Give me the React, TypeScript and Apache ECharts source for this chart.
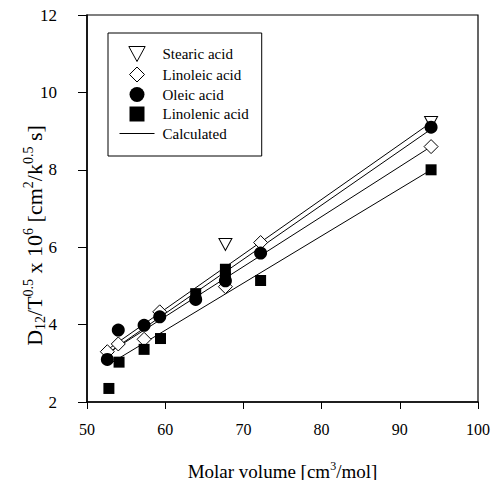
import React, { useEffect, useRef } from "react";
import * as echarts from "echarts";

// Measured points [molar volume, D12/T^0.5 x 10^6]
const stearic: number[][] = [[67.7, 6.07], [94.0, 9.22]];
const linoleic: number[][] = [[52.6, 3.3], [54.0, 3.5], [57.3, 3.62], [59.3, 4.33], [67.7, 4.98], [72.2, 6.12], [94.0, 8.6]];
const oleic: number[][] = [[52.6, 3.1], [54.0, 3.86], [57.3, 3.98], [59.3, 4.2], [63.9, 4.65], [67.7, 5.13], [72.2, 5.85], [94.0, 9.1]];
const linolenic: number[][] = [[52.8, 2.35], [54.1, 3.03], [57.3, 3.36], [59.4, 3.64], [63.9, 4.8], [67.7, 5.43], [67.7, 5.22], [72.2, 5.14], [94.0, 8.0]];

// Calculated lines (end points)
const calcX = [52.6, 94.0];
const calcStearic = [3.35, 9.22];
const calcOleic = [3.25, 9.05];
const calcLinoleic = [3.25, 8.6];
const calcLinolenic = [2.95, 8.0];

const xTicks = { min: 50, max: 100, interval: 10 };
const yTicks = { min: 2, max: 12, interval: 2 };

const FONT = "Liberation Serif";
const TRI_DOWN = "path://M0,0L12,0L6,11Z";
const DIAMOND = "path://M7,0L14,7L7,14L0,7Z";
const CIRCLE = "path://M6,0A6,6 0 1,1 6,12A6,6 0 1,1 6,0Z";
const SQUARE = "path://M0,0H10V10H0Z";
const LINE_ICON = "path://M0,0H35V1H0Z";

const toLine = (ys: number[]) => calcX.map((x, i) => [x, ys[i]]);

export default function App() {
  const ref = useRef<HTMLDivElement>(null);
  useEffect(() => {
    if (!ref.current) return;
    const chart = echarts.init(ref.current, null, { renderer: "svg" });
    const hollow = { color: "#fff", borderColor: "#000", borderWidth: 1, opacity: 1 };
    const solid = { color: "#000", opacity: 1 };
    const lineSeries = (ys: number[]) => ({
      name: "Calculated",
      type: "line",
      data: toLine(ys),
      symbol: "none",
      lineStyle: { color: "#000", width: 1 },
      itemStyle: { color: "#000" },
      z: 1,
    });
    chart.setOption({
      animation: false,
      backgroundColor: "#fff",
      grid: {
        left: 87, right: 16, top: 15, bottom: 78,
        outerBoundsMode: "none", containLabel: false,
        show: true, borderColor: "#000", borderWidth: 1.2,
      },
      legend: {
        left: 108,
        top: 33,
        orient: "vertical",
        padding: [13, 13, 15, 11.5],
        itemGap: 4.5,
        itemWidth: 35,
        itemHeight: 15,
        borderColor: "#000",
        borderWidth: 1,
        backgroundColor: "#fff",
        textStyle: { fontFamily: FONT, fontSize: 15, color: "#000", padding: [0, 0, 0, 3], lineHeight: 15 },
        data: [
          { name: "Stearic acid", icon: TRI_DOWN, itemStyle: hollow },
          { name: "Linoleic acid", icon: DIAMOND, itemStyle: hollow },
          { name: "Oleic acid", icon: CIRCLE, itemStyle: solid },
          { name: "Linolenic acid", icon: SQUARE, itemStyle: solid },
          { name: "Calculated", icon: LINE_ICON, itemStyle: { color: "#000", borderWidth: 0 }, lineStyle: { width: 0 } },
        ],
      },
      xAxis: {
        type: "value",
        min: xTicks.min,
        max: xTicks.max,
        interval: xTicks.interval,
        splitLine: { show: false },
        axisLine: { lineStyle: { color: "#000", width: 1.5 } },
        axisTick: { inside: false, length: 7, lineStyle: { color: "#000" } },
        axisLabel: { color: "#000", fontFamily: FONT, fontSize: 16, margin: 19 },
        name: "Molar volume [cm{p|3}/mol]",
        nameLocation: "middle",
        nameGap: 58,
        nameMoveOverlap: false,
        nameTextStyle: {
          color: "#000",
          fontFamily: FONT,
          fontSize: 19,
          lineHeight: 22,
          rich: {
            p: { fontFamily: FONT, fontSize: 12, lineHeight: 12, verticalAlign: "top", color: "#000" },
          },
        },
      },
      yAxis: {
        type: "value",
        min: yTicks.min,
        max: yTicks.max,
        interval: yTicks.interval,
        splitLine: { show: false },
        axisLine: { lineStyle: { color: "#000", width: 1.5 } },
        axisTick: { inside: false, length: 9, lineStyle: { color: "#000" } },
        axisLabel: { color: "#000", fontFamily: FONT, fontSize: 17, margin: 30 },
        name: "{b|D}{s|12}{b|/T}{p|0.5}{b| x 10}{p|6}{b| [cm}{p|2}{b|/k}{p|0.5}{b| s]}",
        nameLocation: "middle",
        nameGap: 40,
        nameRotate: 90,
        nameMoveOverlap: false,
        nameTextStyle: {
          color: "#000",
          fontFamily: FONT,
          fontSize: 22,
          padding: [0, 54, 0, 0],
          rich: {
            b: { fontFamily: FONT, fontSize: 22, lineHeight: 26, verticalAlign: "middle", color: "#000" },
            p: { fontFamily: FONT, fontSize: 14, lineHeight: 14, verticalAlign: "top", color: "#000" },
            s: { fontFamily: FONT, fontSize: 14, lineHeight: 14, verticalAlign: "bottom", color: "#000" },
          },
        },
      },
      series: [
        lineSeries(calcStearic),
        lineSeries(calcOleic),
        lineSeries(calcLinoleic),
        lineSeries(calcLinolenic),
        { name: "Stearic acid", type: "scatter", data: stearic, symbol: TRI_DOWN, symbolSize: [13, 12], itemStyle: hollow, z: 3 },
        { name: "Linoleic acid", type: "scatter", data: linoleic, symbol: "diamond", symbolSize: 14, itemStyle: hollow, z: 4 },
        { name: "Oleic acid", type: "scatter", data: oleic, symbol: "circle", symbolSize: 13, itemStyle: solid, z: 5 },
        { name: "Linolenic acid", type: "scatter", data: linolenic, symbol: "rect", symbolSize: 11, itemStyle: solid, z: 6 },
      ],
    });
    return () => chart.dispose();
  }, []);
  return <div ref={ref} style={{ position: "absolute", left: 0, top: 0, width: 494, height: 480 }} />;
}
